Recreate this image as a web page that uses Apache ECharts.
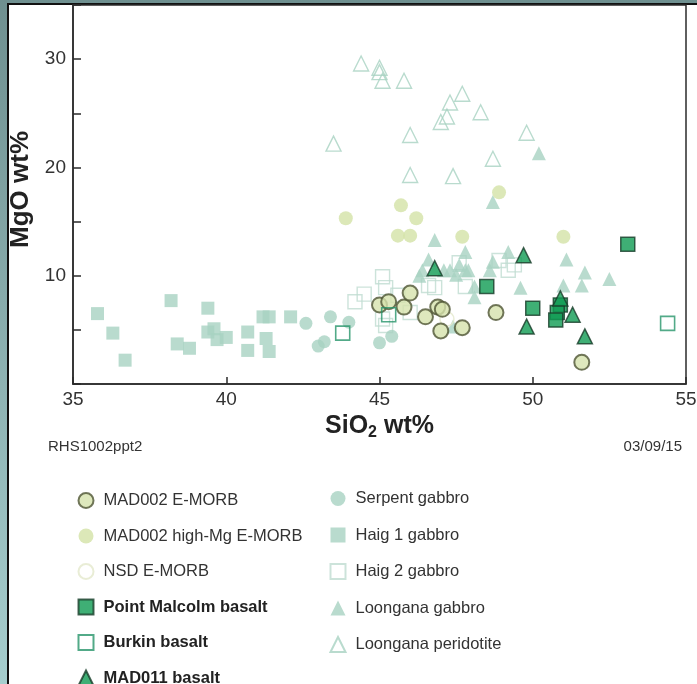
<!DOCTYPE html>
<html>
<head>
<meta charset="utf-8">
<script src="https://cdn.jsdelivr.net/npm/echarts@6/dist/echarts.min.js"></script>
<style>
  html, body { margin: 0; padding: 0; }
  body { width: 697px; height: 684px; position: relative; overflow: hidden;
         background: linear-gradient(#6f9090, #a6cece); }
  #sheet { position: absolute; left: 7px; top: 3px; right: 0; bottom: 0;
           background: #fff; border-left: 2px solid #111; border-top: 2px solid #111; }
  #chart { position: absolute; left: 0; top: 0; width: 697px; height: 684px; }
</style>
</head>
<body>
<div id="sheet"></div>
<div id="chart"></div>
<script>
// SiO2 (wt%) vs MgO (wt%) for each rock group, as [SiO2, MgO]
const loonganaPeridotite = [
  [44.4, 29.6], [45.0, 29.2], [45.0, 28.8], [45.1, 28.0], [45.8, 28.0],
  [43.5, 22.2], [46.0, 23.0], [47.7, 26.8], [47.3, 26.0], [47.2, 24.7],
  [47.0, 24.2], [48.3, 25.1], [49.8, 23.2], [48.7, 20.8], [46.0, 19.3],
  [47.4, 19.2]
];
const haig1Gabbro = [
  [35.8, 6.5], [36.3, 4.7], [36.7, 2.2], [38.2, 7.7], [38.4, 3.7],
  [38.8, 3.3], [39.4, 7.0], [39.4, 4.8], [39.6, 5.1], [39.7, 4.1],
  [40.0, 4.3], [40.7, 4.8], [40.7, 3.1], [41.2, 6.2], [41.4, 6.2],
  [41.3, 4.2], [41.4, 3.0], [42.1, 6.2]
];
const haig2Gabbro = [
  [45.1, 9.9], [44.5, 8.3], [44.2, 7.6], [45.2, 8.9], [45.6, 8.2],
  [45.1, 6.0], [45.2, 5.4], [46.6, 9.1], [46.8, 8.9], [47.6, 11.2],
  [47.8, 9.0], [48.9, 11.4], [49.2, 10.5], [49.4, 11.0], [46.0, 6.6]
];
const serpentGabbro = [
  [42.6, 5.6], [43.4, 6.2], [43.0, 3.5], [43.2, 3.9], [44.0, 5.7],
  [45.0, 3.8], [45.4, 4.4]
];
const loonganaGabbro = [
  [50.2, 21.3], [48.7, 16.8], [46.8, 13.3], [47.8, 12.2], [49.2, 12.2],
  [46.6, 11.5], [46.4, 10.5], [47.3, 10.5], [47.6, 11.0], [47.9, 10.5],
  [48.6, 10.5], [48.7, 11.3], [47.5, 10.1], [48.1, 9.0], [48.1, 8.0],
  [49.6, 8.9], [51.1, 11.5], [51.0, 9.1], [51.7, 10.3], [51.6, 9.1],
  [52.5, 9.7], [47.4, 5.3], [46.3, 10.0], [47.1, 10.5], [47.8, 10.5]
];
const mad002HighMg = [
  [43.9, 15.3], [48.9, 17.7], [45.7, 16.5], [46.2, 15.3], [45.6, 13.7],
  [46.0, 13.7], [47.7, 13.6], [51.0, 13.6]
];
const nsdEmorb = [
  [47.2, 6.0]
];
const mad002Emorb = [
  [45.0, 7.3], [45.3, 7.6], [45.8, 7.1], [46.0, 8.4], [46.5, 6.2],
  [46.9, 7.1], [47.05, 6.9], [47.0, 4.9], [47.7, 5.2], [48.8, 6.6],
  [51.6, 2.0]
];
const burkinBasalt = [
  [43.8, 4.7], [45.3, 6.4], [54.4, 5.6]
];
const pointMalcolmBasalt = [
  [53.1, 12.9], [48.5, 9.0], [50.0, 7.0], [50.9, 7.3], [50.8, 6.6],
  [50.75, 5.9]
];
const mad011Basalt = [
  [46.8, 10.7], [49.7, 11.9], [50.9, 7.9], [51.3, 6.4], [49.8, 5.3],
  [51.7, 4.4]
];

// Axis tick values
const xTicks = [35, 40, 45, 50, 55];
const yLabelled = [10, 20, 30];

const FONT = '"Liberation Sans", Arial, Helvetica, sans-serif';
const PALE = '#a8d2c2';
const GREEN = '#0f9b53';
const GREEN_EDGE = '#183c29';

function series(name, data, symbol, size, itemStyle) {
  return { name, type: 'scatter', data, symbol, symbolSize: size, itemStyle };
}

const legendText = { fontSize: 16.5, color: '#333', fontFamily: FONT, padding: [0, 0, 0, 5] };
const boldText = { fontWeight: 'bold', color: '#222' };

const chart = echarts.init(document.getElementById('chart'), null, { renderer: 'canvas' });

chart.setOption({
  animation: false,
  textStyle: { fontFamily: FONT },
  grid: { left: 73, right: 11, top: 5, bottom: 300, show: true, outerBoundsMode: 'none',
          borderColor: '#2b2b2b', borderWidth: 1.5, backgroundColor: 'transparent' },
  xAxis: {
    type: 'value', min: xTicks[0], max: xTicks[xTicks.length - 1], interval: 5,
    splitLine: { show: false },
    axisLine: { lineStyle: { color: '#2b2b2b', width: 1.5 } },
    axisTick: { inside: true, length: 7, lineStyle: { color: '#2b2b2b', width: 1.5 } },
    axisLabel: { color: '#333', fontSize: 19, margin: 6, fontFamily: FONT },
    name: '{a|SiO}{b|2}{a| wt%}',
    nameLocation: 'middle', nameGap: 21,
    nameTextStyle: {
      rich: {
        a: { fontSize: 25, fontWeight: 'bold', color: '#222', fontFamily: FONT },
        b: { fontSize: 16, fontWeight: 'bold', color: '#222', fontFamily: FONT, padding: [13, 0, 0, 0] }
      }
    }
  },
  yAxis: {
    type: 'value', min: 0, max: 35, interval: 5,
    splitLine: { show: false },
    axisLine: { lineStyle: { color: '#2b2b2b', width: 1.5 } },
    axisTick: { inside: true, length: 8, lineStyle: { color: '#2b2b2b', width: 1.5 } },
    axisLabel: {
      color: '#333', fontSize: 19, margin: 7, fontFamily: FONT,
      formatter: v => (yLabelled.indexOf(v) >= 0 ? String(v) : '')
    },
    name: 'MgO wt%', nameLocation: 'middle', nameGap: 39, nameRotate: 90,
    nameTextStyle: { fontSize: 26, fontWeight: 'bold', color: '#222', fontFamily: FONT,
                     padding: [0, 0, 0, 10] }
  },
  legend: [
    {
      orient: 'vertical', left: 72.5, top: 487, height: 300,
      itemWidth: 15, itemHeight: 15, itemGap: 18.5,
      textStyle: legendText,
      data: [
        'MAD002 E-MORB', 'MAD002 high-Mg E-MORB', 'NSD E-MORB',
        { name: 'Point Malcolm basalt', textStyle: boldText },
        { name: 'Burkin basalt', textStyle: boldText },
        { name: 'MAD011 basalt', textStyle: boldText }
      ]
    },
    {
      orient: 'vertical', left: 324.5, top: 485, height: 300,
      itemWidth: 15, itemHeight: 15, itemGap: 19.5,
      textStyle: legendText,
      data: ['Serpent gabbro', 'Haig 1 gabbro', 'Haig 2 gabbro', 'Loongana gabbro', 'Loongana peridotite']
    }
  ],
  graphic: [
    { type: 'text', left: 48, top: 439,
      style: { text: 'RHS1002ppt2', fontSize: 15, fill: '#333', fontFamily: FONT } },
    { type: 'text', right: 15, top: 439,
      style: { text: '03/09/15', fontSize: 15, fill: '#333', fontFamily: FONT } }
  ],
  series: [
    series('Loongana peridotite', loonganaPeridotite, 'triangle', 15,
      { color: 'rgba(255,255,255,0)', borderColor: PALE, borderWidth: 1.4 }),
    series('Haig 1 gabbro', haig1Gabbro, 'rect', 13, { color: PALE }),
    series('Haig 2 gabbro', haig2Gabbro, 'rect', 14,
      { color: 'rgba(255,255,255,0)', borderColor: '#bfdcd1', borderWidth: 1.4 }),
    series('Serpent gabbro', serpentGabbro, 'circle', 13, { color: PALE }),
    series('Loongana gabbro', loonganaGabbro, 'triangle', 14, { color: PALE }),
    series('MAD002 high-Mg E-MORB', mad002HighMg, 'circle', 14, { color: '#d3e2a6' }),
    series('NSD E-MORB', nsdEmorb, 'circle', 14,
      { color: 'rgba(255,255,255,0)', borderColor: '#e3e9cc', borderWidth: 1.5 }),
    series('MAD002 E-MORB', mad002Emorb, 'circle', 15,
      { color: '#d6e2ac', borderColor: '#4f5535', borderWidth: 2 }),
    series('Burkin basalt', burkinBasalt, 'rect', 14,
      { color: 'rgba(255,255,255,0)', borderColor: '#27956a', borderWidth: 1.6 }),
    series('Point Malcolm basalt', pointMalcolmBasalt, 'rect', 14,
      { color: GREEN, borderColor: GREEN_EDGE, borderWidth: 1.5 }),
    series('MAD011 basalt', mad011Basalt, 'triangle', 15,
      { color: GREEN, borderColor: GREEN_EDGE, borderWidth: 1.5 })
  ]
});
</script>
</body>
</html>
